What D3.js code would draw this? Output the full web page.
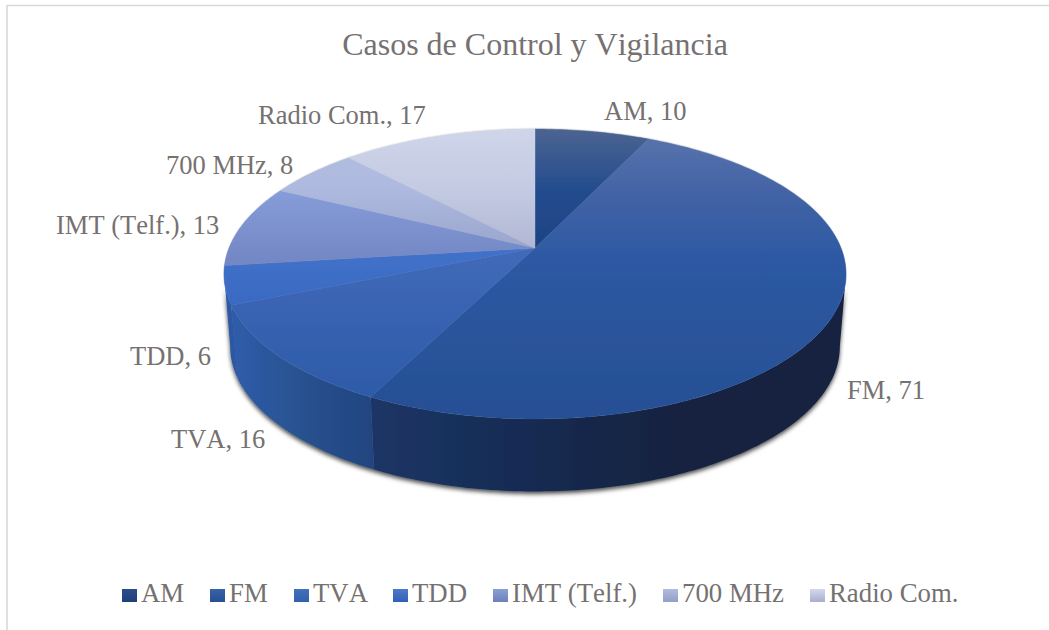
<!DOCTYPE html>
<html>
<head>
<meta charset="utf-8">
<script src="https://cdn.jsdelivr.net/npm/d3@7"></script>
<style>
  html, body { margin: 0; padding: 0; background: #fff; overflow: hidden; }
  svg { display: block; }
  text { font-family: "Liberation Serif", serif; fill: #767171; font-kerning: none; }
</style>
</head>
<body>
<div id="chart"></div>
<script>
// Casos de Control y Vigilancia - 3D pie
var categories = ["AM", "FM", "TVA", "TDD", "IMT (Telf.)", "700 MHz", "Radio Com."];
var values = [10, 71, 16, 6, 13, 8, 17];
var title = "Casos de Control y Vigilancia";

// top face colours per slice, top to bottom of the pie
var topColors = [
  ["#4c6491", "#234c8e", "#1d4182", "#1c3f7e"],
  ["#5a75ac", "#4464a6", "#2d59a3", "#264f94"],
  ["#5472b6", "#5070b4", "#4069b8", "#2a58a6"],
  ["#5a82d2", "#5580d0", "#4070c8", "#2a5cb5"],
  ["#90a5dc", "#879dda", "#7388c4", "#6c80ba"],
  ["#b4bfe0", "#adb9de", "#96a2ca", "#949fc8"],
  ["#cfd6ea", "#c3cae2", "#aeb4d1", "#a9aecb"]
];
var wallColors = {
  1: ["#1b3566", "#172b52", "#12223f", "#122140"],
  2: ["#2f5cab", "#28528f", "#214580"],
  3: ["#2f5cab", "#2c58a2"]
};
var legendColors = [
  ["#2c4d88", "#1d3f7c"],
  ["#3a62a6", "#264f94"],
  ["#4470bc", "#3060b0"],
  ["#5078c8", "#2f60b8"],
  ["#8a9fd8", "#6c80ba"],
  ["#b0bbdd", "#949fc8"],
  ["#d2d9ec", "#a9aecb"]
];

var width = 1049, height = 630;

// pie geometry: circle seen in perspective, apex is above the ellipse middle
var cx = 535, cy = 248;
var persp = -0.1793, scaleX = 306, scaleY = 140.3;
var depth = 72.5, bottomShrink = 0.98;
var topEdge = 129, bottomEdge = 419;
var stopY = [129, 190, 258, 419];

// label layout, same order as categories
var labelX = [604, 847, 171, 130, 56, 166, 258];
var labelY = [120, 399, 448, 365, 234, 174, 124];
var legendX = [122, 210, 294, 393, 493, 663, 810];

var svg = d3.select("#chart").append("svg")
  .attr("width", width)
  .attr("height", height);

var defs = svg.append("defs");

var shadow = defs.append("filter").attr("id", "wallShadow")
  .attr("x", "-5%").attr("y", "-5%").attr("width", "110%").attr("height", "115%");
shadow.append("feDropShadow")
  .attr("dx", 0).attr("dy", 2.5).attr("stdDeviation", 2)
  .attr("flood-color", "#000").attr("flood-opacity", 0.7);

var edge = defs.append("filter").attr("id", "topEdge")
  .attr("x", "-5%").attr("y", "-5%").attr("width", "110%").attr("height", "110%");
edge.append("feDropShadow")
  .attr("dx", 0).attr("dy", -0.3).attr("stdDeviation", 0.7)
  .attr("flood-color", "#000").attr("flood-opacity", 0.35);

// project an angle (clockwise from the back) on the rim
function rim(a) {
  var u = Math.sin(a), v = -Math.cos(a), w = 1 + persp * v;
  return [cx + scaleX * u / w, cy + scaleY * v / w];
}
function rimBottom(a) {
  var p = rim(a);
  return [cx + (p[0] - cx) * bottomShrink, p[1] + depth];
}
function arcPoints(fn, a0, a1) {
  var n = Math.max(2, Math.ceil(Math.abs(a1 - a0) * 60));
  return d3.range(n + 1).map(function(i) { return fn(a0 + (a1 - a0) * i / n); });
}

var line = d3.line().curve(d3.curveLinear);

var pie = d3.pie().sort(null).startAngle(0).endAngle(2 * Math.PI);
var slices = pie(values).map(function(d, i) {
  return { i: i, name: categories[i], value: d.value, a0: d.startAngle, a1: d.endAngle };
});

// gradients
var topY = d3.scaleLinear().domain([topEdge, bottomEdge]).range([0, 1]);
slices.forEach(function(s) {
  var g = defs.append("linearGradient")
    .attr("id", "top-" + s.i)
    .attr("gradientUnits", "userSpaceOnUse")
    .attr("x1", 0).attr("x2", 0).attr("y1", topEdge).attr("y2", bottomEdge);
  topColors[s.i].forEach(function(c, k) {
    g.append("stop").attr("offset", topY(stopY[k])).attr("stop-color", c);
  });
});

// side wall only shows at the front, between the two tangents of the rim
var wallStart = Math.acos(persp);
var wallEnd = 2 * Math.PI - wallStart;
var walls = slices.map(function(s) {
  return { i: s.i, a0: Math.max(s.a0, wallStart), a1: Math.min(s.a1, wallEnd) };
}).filter(function(w) { return w.a1 > w.a0; });

walls.forEach(function(w) {
  var colors = wallColors[w.i] || ["#2c58a2", "#2c58a2"];
  var xs = [rim(w.a0)[0], rim(w.a1)[0]];
  var g = defs.append("linearGradient")
    .attr("id", "wall-" + w.i)
    .attr("gradientUnits", "userSpaceOnUse")
    .attr("x1", d3.min(xs)).attr("x2", d3.max(xs)).attr("y1", 0).attr("y2", 0);
  colors.forEach(function(c, k) {
    g.append("stop").attr("offset", k / (colors.length - 1)).attr("stop-color", c);
  });
});

// chart frame
svg.append("path")
  .attr("d", "M7,630V5.5H1049")
  .attr("fill", "none")
  .attr("stroke", "#d9d9d9")
  .attr("stroke-width", 1.6);

// title
svg.append("text")
  .attr("x", 535)
  .attr("y", 55)
  .style("text-anchor", "middle")
  .style("font-size", "32px")
  .text(title);

// walls
var wallGroup = svg.append("g").attr("class", "walls").attr("filter", "url(#wallShadow)");
wallGroup.selectAll("path")
  .data(walls)
  .enter()
  .append("path")
  .attr("d", function(w) {
    var upper = arcPoints(rim, w.a0, w.a1);
    var lower = arcPoints(rimBottom, w.a1, w.a0);
    return line(upper.concat(lower)) + "Z";
  })
  .attr("fill", function(w) { return "url(#wall-" + w.i + ")"; });

// top face
var topGroup = svg.append("g").attr("class", "top").attr("filter", "url(#topEdge)");
topGroup.selectAll("path")
  .data(slices)
  .enter()
  .append("path")
  .attr("d", function(s) {
    return line([[cx, cy]].concat(arcPoints(rim, s.a0, s.a1))) + "Z";
  })
  .attr("fill", function(s) { return "url(#top-" + s.i + ")"; })
  .attr("stroke", function(s) { return "url(#top-" + s.i + ")"; })
  .attr("stroke-width", 0.4);

// data labels
svg.selectAll(".label")
  .data(slices)
  .enter()
  .append("text")
  .attr("class", "label")
  .attr("x", function(s) { return labelX[s.i]; })
  .attr("y", function(s) { return labelY[s.i]; })
  .style("font-size", "26.5px")
  .text(function(s) { return s.name + ", " + s.value; });

// legend
legendColors.forEach(function(c, i) {
  var g = defs.append("linearGradient")
    .attr("id", "legend-" + i)
    .attr("x1", 0).attr("x2", 0).attr("y1", 0).attr("y2", 1);
  g.append("stop").attr("offset", 0).attr("stop-color", c[0]);
  g.append("stop").attr("offset", 1).attr("stop-color", c[1]);
});

var legend = svg.selectAll(".legend")
  .data(slices)
  .enter()
  .append("g")
  .attr("class", "legend")
  .attr("transform", function(s) { return "translate(" + legendX[s.i] + ",602)"; });

legend.append("rect")
  .attr("x", 0)
  .attr("y", -13)
  .attr("width", 15)
  .attr("height", 13)
  .attr("fill", function(s) { return "url(#legend-" + s.i + ")"; });

legend.append("text")
  .attr("x", 19)
  .attr("y", 0)
  .style("font-size", "26.8px")
  .text(function(s) { return s.name; });
</script>
</body>
</html>
